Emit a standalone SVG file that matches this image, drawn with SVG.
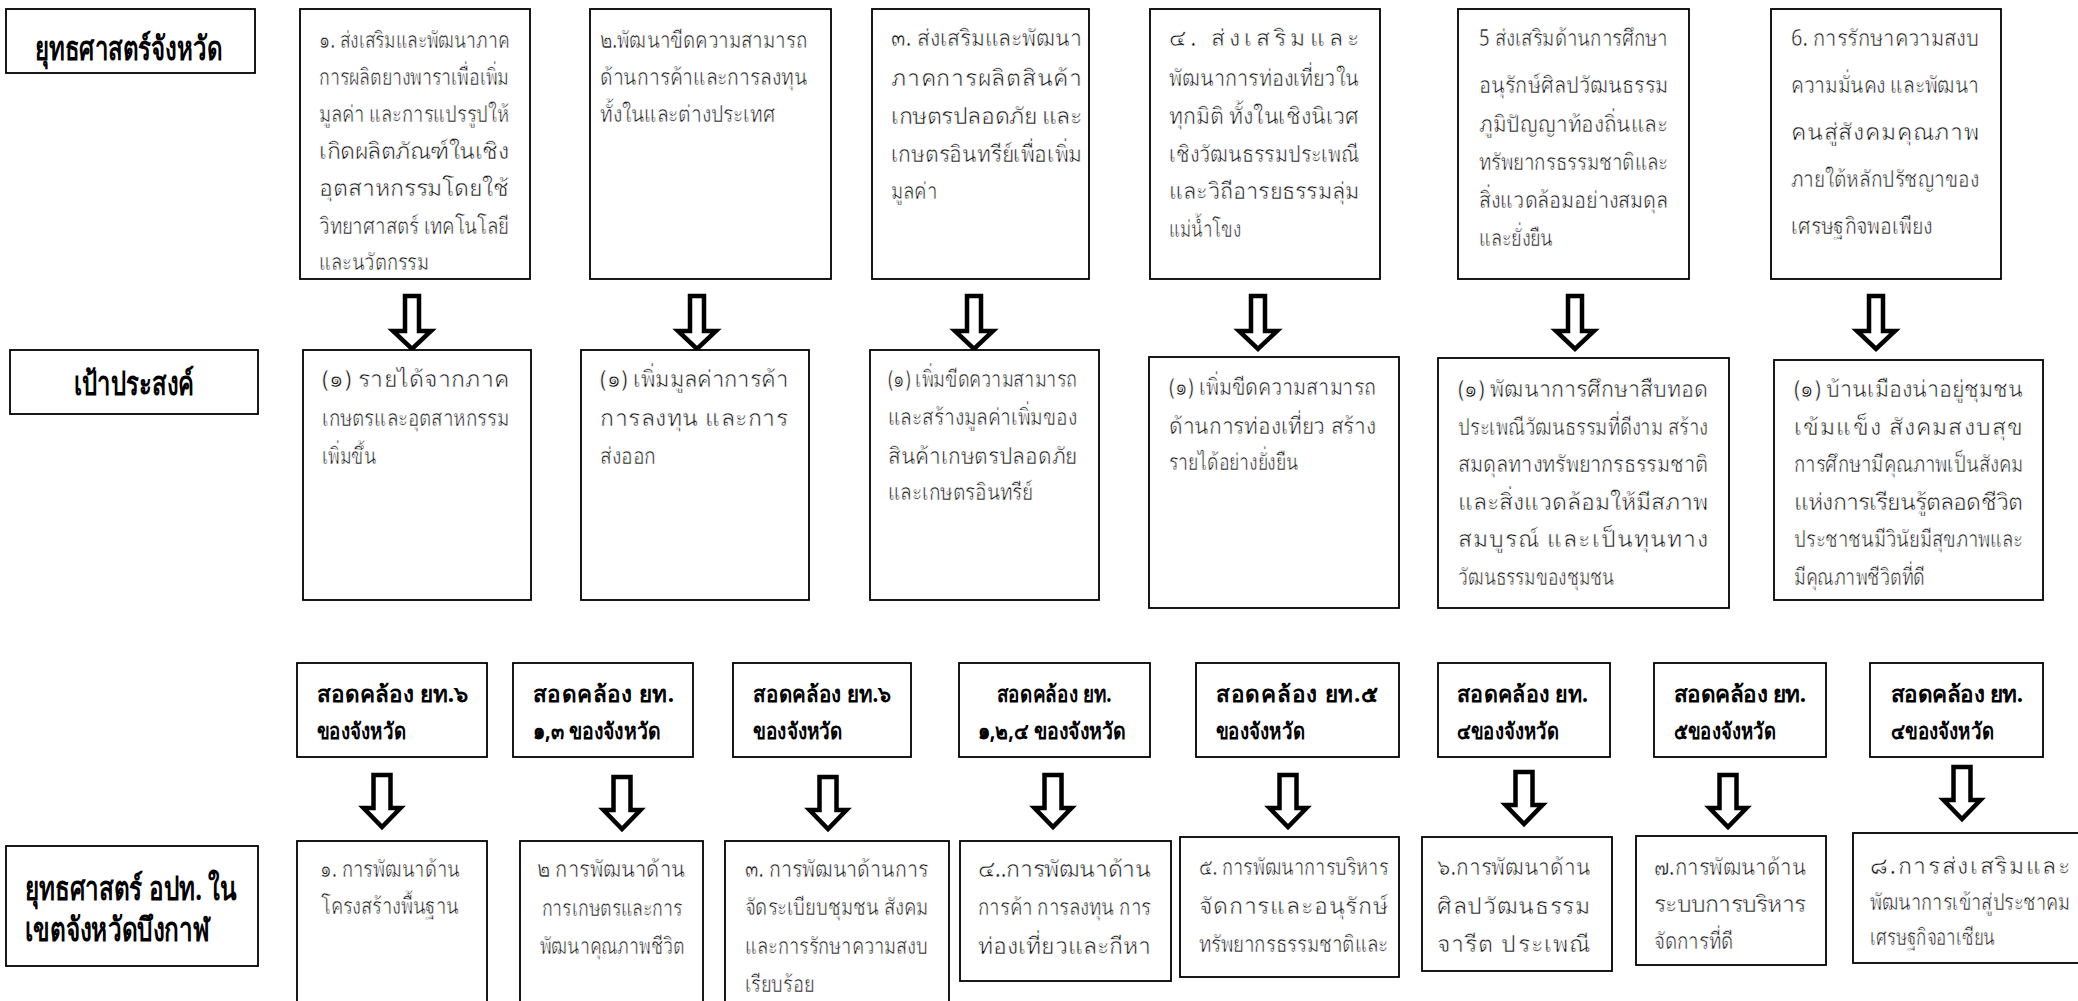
<svg xmlns="http://www.w3.org/2000/svg" xmlns:xlink="http://www.w3.org/1999/xlink" width="2078" height="1001" viewBox="0 0 2078 1001">
<style>
.box{fill:#fff;stroke:#000;stroke-width:1.8}
.t{font-family:'Noto Sans','DejaVu Sans',sans-serif;font-size:23px;fill:#111;stroke:#fff;stroke-width:0.55px}
.b{font-weight:bold;font-size:22.5px;fill:#000;stroke:none}
.h{font-weight:bold;font-size:33px;fill:#000;stroke:none}
.arr{fill:#fff;stroke:#000;stroke-width:4.5;stroke-linejoin:miter;stroke-miterlimit:10}
.m{text-anchor:middle}
</style>
<defs>
<path id="arrA" d="M-7,-56 H7 V-21 H19 L0,-3 L-19,-21 H-7 Z"/>
<path id="arrB" d="M-8.5,-55 H8.5 V-22 H18.5 L0,-3 L-18.5,-22 H-8.5 Z"/>
</defs>
<rect width="2078" height="1001" fill="#fff"/>

<g id="connectors">
<use xlink:href="#arrA" class="arr" transform="translate(412,352)"/>
<use xlink:href="#arrA" class="arr" transform="translate(697,352)"/>
<use xlink:href="#arrA" class="arr" transform="translate(974,352)"/>
<use xlink:href="#arrA" class="arr" transform="translate(1258,352)"/>
<use xlink:href="#arrA" class="arr" transform="translate(1575,352)"/>
<use xlink:href="#arrA" class="arr" transform="translate(1876,352)"/>
<use xlink:href="#arrB" class="arr" transform="translate(382,830)"/>
<use xlink:href="#arrB" class="arr" transform="translate(622,832)"/>
<use xlink:href="#arrB" class="arr" transform="translate(828,832)"/>
<use xlink:href="#arrB" class="arr" transform="translate(1053,830)"/>
<use xlink:href="#arrB" class="arr" transform="translate(1288,830)"/>
<use xlink:href="#arrB" class="arr" transform="translate(1524,827)"/>
<use xlink:href="#arrB" class="arr" transform="translate(1728,830)"/>
<use xlink:href="#arrB" class="arr" transform="translate(1962,822)"/>
</g>

<g id="title-province">
<rect class="box" x="6" y="9" width="249" height="64"/>
<text class="t h" x="35" y="60" textLength="187" lengthAdjust="spacingAndGlyphs">ยุทธศาสตร์จังหวัด</text>
</g>

<g id="a1">
<rect class="box" x="300" y="9" width="230" height="270"/>
<text class="t" x="319" y="48" textLength="190" lengthAdjust="spacingAndGlyphs">๑. ส่งเสริมและพัฒนาภาค</text>
<text class="t" x="319" y="85" textLength="190" lengthAdjust="spacingAndGlyphs">การผลิตยางพาราเพื่อเพิ่ม</text>
<text class="t" x="319" y="122" textLength="190" lengthAdjust="spacingAndGlyphs">มูลค่า และการแปรรูปให้</text>
<text class="t" x="319" y="159" textLength="190" lengthAdjust="spacing">เกิดผลิตภัณฑ์ในเชิง</text>
<text class="t" x="319" y="196" textLength="190" lengthAdjust="spacing">อุตสาหกรรมโดยใช้</text>
<text class="t" x="319" y="234" textLength="190" lengthAdjust="spacingAndGlyphs">วิทยาศาสตร์ เทคโนโลยี</text>
<text class="t" x="319" y="270" textLength="110" lengthAdjust="spacingAndGlyphs">และนวัตกรรม</text>
</g>

<g id="a2">
<rect class="box" x="590" y="9" width="241" height="270"/>
<text class="t" x="600" y="48" textLength="207" lengthAdjust="spacingAndGlyphs">๒.พัฒนาขีดความสามารถ</text>
<text class="t" x="600" y="85" textLength="207" lengthAdjust="spacingAndGlyphs">ด้านการค้าและการลงทุน</text>
<text class="t" x="600" y="122" textLength="175" lengthAdjust="spacingAndGlyphs">ทั้งในและต่างประเทศ</text>
</g>

<g id="a3">
<rect class="box" x="872" y="9" width="217" height="270"/>
<text class="t" x="891" y="46" textLength="191" lengthAdjust="spacingAndGlyphs">๓. ส่งเสริมและพัฒนา</text>
<text class="t" x="891" y="86" textLength="191" lengthAdjust="spacing">ภาคการผลิตสินค้า</text>
<text class="t" x="891" y="124" textLength="191" lengthAdjust="spacing">เกษตรปลอดภัย และ</text>
<text class="t" x="891" y="162" textLength="191" lengthAdjust="spacingAndGlyphs">เกษตรอินทรีย์เพื่อเพิ่ม</text>
<text class="t" x="891" y="199" textLength="46" lengthAdjust="spacingAndGlyphs">มูลค่า</text>
</g>

<g id="a4">
<rect class="box" x="1150" y="9" width="230" height="270"/>
<text class="t" x="1169" y="46" textLength="190" lengthAdjust="spacing">๔. ส่งเสริมและ</text>
<text class="t" x="1169" y="86" textLength="190" lengthAdjust="spacingAndGlyphs">พัฒนาการท่องเที่ยวใน</text>
<text class="t" x="1169" y="124" textLength="190" lengthAdjust="spacingAndGlyphs">ทุกมิติ ทั้งในเชิงนิเวศ</text>
<text class="t" x="1169" y="162" textLength="190" lengthAdjust="spacingAndGlyphs">เชิงวัฒนธรรมประเพณี</text>
<text class="t" x="1169" y="199" textLength="190" lengthAdjust="spacingAndGlyphs">และวิถีอารยธรรมลุ่ม</text>
<text class="t" x="1169" y="237" textLength="72" lengthAdjust="spacingAndGlyphs">แม่น้ำโขง</text>
</g>

<g id="a5">
<rect class="box" x="1458" y="9" width="231" height="270"/>
<text class="t" x="1479" y="46" textLength="189" lengthAdjust="spacingAndGlyphs">5 ส่งเสริมด้านการศึกษา</text>
<text class="t" x="1479" y="93" textLength="189" lengthAdjust="spacingAndGlyphs">อนุรักษ์ศิลปวัฒนธรรม</text>
<text class="t" x="1479" y="132" textLength="189" lengthAdjust="spacingAndGlyphs">ภูมิปัญญาท้องถิ่นและ</text>
<text class="t" x="1479" y="170" textLength="189" lengthAdjust="spacingAndGlyphs">ทรัพยากรธรรมชาติและ</text>
<text class="t" x="1479" y="208" textLength="189" lengthAdjust="spacingAndGlyphs">สิ่งแวดล้อมอย่างสมดุล</text>
<text class="t" x="1479" y="246" textLength="74" lengthAdjust="spacingAndGlyphs">และยั่งยืน</text>
</g>

<g id="a6">
<rect class="box" x="1771" y="9" width="230" height="270"/>
<text class="t" x="1791" y="46" textLength="188" lengthAdjust="spacingAndGlyphs">6. การรักษาความสงบ</text>
<text class="t" x="1791" y="93" textLength="188" lengthAdjust="spacingAndGlyphs">ความมั่นคง และพัฒนา</text>
<text class="t" x="1791" y="140" textLength="188" lengthAdjust="spacing">คนสู่สังคมคุณภาพ</text>
<text class="t" x="1791" y="187" textLength="188" lengthAdjust="spacingAndGlyphs">ภายใต้หลักปรัชญาของ</text>
<text class="t" x="1791" y="234" textLength="141" lengthAdjust="spacingAndGlyphs">เศรษฐกิจพอเพียง</text>
</g>

<g id="title-goal">
<rect class="box" x="10" y="350" width="248" height="64"/>
<text class="t h" x="74" y="395" textLength="120" lengthAdjust="spacingAndGlyphs">เป้าประสงค์</text>
</g>

<g id="b1">
<rect class="box" x="303" y="350" width="228" height="250"/>
<text class="t" x="322" y="387" textLength="187" lengthAdjust="spacing">(๑) รายได้จากภาค</text>
<text class="t" x="322" y="426" textLength="187" lengthAdjust="spacingAndGlyphs">เกษตรและอุตสาหกรรม</text>
<text class="t" x="322" y="464" textLength="54" lengthAdjust="spacingAndGlyphs">เพิ่มขึ้น</text>
</g>

<g id="b2">
<rect class="box" x="581" y="350" width="228" height="250"/>
<text class="t" x="600" y="387" textLength="188" lengthAdjust="spacingAndGlyphs">(๑) เพิ่มมูลค่าการค้า</text>
<text class="t" x="600" y="426" textLength="188" lengthAdjust="spacing">การลงทุน และการ</text>
<text class="t" x="600" y="464" textLength="56" lengthAdjust="spacingAndGlyphs">ส่งออก</text>
</g>

<g id="b3">
<rect class="box" x="870" y="350" width="229" height="250"/>
<text class="t" x="888" y="387" textLength="189" lengthAdjust="spacingAndGlyphs">(๑) เพิ่มขีดความสามารถ</text>
<text class="t" x="888" y="425" textLength="189" lengthAdjust="spacingAndGlyphs">และสร้างมูลค่าเพิ่มของ</text>
<text class="t" x="888" y="464" textLength="189" lengthAdjust="spacingAndGlyphs">สินค้าเกษตรปลอดภัย</text>
<text class="t" x="888" y="500" textLength="145" lengthAdjust="spacingAndGlyphs">และเกษตรอินทรีย์</text>
</g>

<g id="b4">
<rect class="box" x="1149" y="357" width="250" height="251"/>
<text class="t" x="1169" y="395" textLength="207" lengthAdjust="spacingAndGlyphs">(๑) เพิ่มขีดความสามารถ</text>
<text class="t" x="1169" y="434" textLength="207" lengthAdjust="spacingAndGlyphs">ด้านการท่องเที่ยว สร้าง</text>
<text class="t" x="1169" y="470" textLength="129" lengthAdjust="spacingAndGlyphs">รายได้อย่างยั่งยืน</text>
</g>

<g id="b5">
<rect class="box" x="1438" y="358" width="291" height="250"/>
<text class="t" x="1458" y="397" textLength="250" lengthAdjust="spacingAndGlyphs">(๑) พัฒนาการศึกษาสืบทอด</text>
<text class="t" x="1458" y="435" textLength="250" lengthAdjust="spacingAndGlyphs">ประเพณีวัฒนธรรมที่ดีงาม สร้าง</text>
<text class="t" x="1458" y="472" textLength="250" lengthAdjust="spacingAndGlyphs">สมดุลทางทรัพยากรธรรมชาติ</text>
<text class="t" x="1458" y="510" textLength="250" lengthAdjust="spacing">และสิ่งแวดล้อมให้มีสภาพ</text>
<text class="t" x="1458" y="547" textLength="250" lengthAdjust="spacing">สมบูรณ์ และเป็นทุนทาง</text>
<text class="t" x="1458" y="585" textLength="156" lengthAdjust="spacingAndGlyphs">วัฒนธรรมของชุมชน</text>
</g>

<g id="b6">
<rect class="box" x="1774" y="360" width="269" height="240"/>
<text class="t" x="1794" y="397" textLength="229" lengthAdjust="spacingAndGlyphs">(๑) บ้านเมืองน่าอยู่ชุมชน</text>
<text class="t" x="1794" y="435" textLength="229" lengthAdjust="spacing">เข้มแข็ง สังคมสงบสุข</text>
<text class="t" x="1794" y="472" textLength="229" lengthAdjust="spacingAndGlyphs">การศึกษามีคุณภาพเป็นสังคม</text>
<text class="t" x="1794" y="510" textLength="229" lengthAdjust="spacing">แห่งการเรียนรู้ตลอดชีวิต</text>
<text class="t" x="1794" y="547" textLength="229" lengthAdjust="spacingAndGlyphs">ประชาชนมีวินัยมีสุขภาพและ</text>
<text class="t" x="1794" y="585" textLength="131" lengthAdjust="spacingAndGlyphs">มีคุณภาพชีวิตที่ดี</text>
</g>

<g id="c1">
<rect class="box" x="297" y="663" width="190" height="94"/>
<text class="t b" x="317" y="702" textLength="151" lengthAdjust="spacing">สอดคล้อง ยท.๖</text>
<text class="t b" x="317" y="739" textLength="89" lengthAdjust="spacingAndGlyphs">ของจังหวัด</text>
</g>
<g id="c2">
<rect class="box" x="513" y="663" width="180" height="94"/>
<text class="t b" x="533" y="702" textLength="141" lengthAdjust="spacing">สอดคล้อง ยท.</text>
<text class="t b" x="533" y="739" textLength="128" lengthAdjust="spacingAndGlyphs">๑,๓ ของจังหวัด</text>
</g>
<g id="c3">
<rect class="box" x="733" y="663" width="178" height="94"/>
<text class="t b" x="753" y="702" textLength="138" lengthAdjust="spacingAndGlyphs">สอดคล้อง ยท.๖</text>
<text class="t b" x="753" y="739" textLength="90" lengthAdjust="spacingAndGlyphs">ของจังหวัด</text>
</g>
<g id="c4">
<rect class="box" x="959" y="663" width="191" height="94"/>
<text class="t b m" x="1054" y="702" textLength="115" lengthAdjust="spacingAndGlyphs">สอดคล้อง ยท.</text>
<text class="t b m" x="1052" y="739" textLength="149" lengthAdjust="spacingAndGlyphs">๑,๒,๔ ของจังหวัด</text>
</g>
<g id="c5">
<rect class="box" x="1196" y="663" width="203" height="94"/>
<text class="t b" x="1216" y="702" textLength="162" lengthAdjust="spacing">สอดคล้อง ยท.๕</text>
<text class="t b" x="1216" y="739" textLength="89" lengthAdjust="spacingAndGlyphs">ของจังหวัด</text>
</g>
<g id="c6">
<rect class="box" x="1438" y="663" width="172" height="94"/>
<text class="t b" x="1457" y="702" textLength="131" lengthAdjust="spacingAndGlyphs">สอดคล้อง ยท.</text>
<text class="t b" x="1457" y="739" textLength="102" lengthAdjust="spacingAndGlyphs">๔ของจังหวัด</text>
</g>
<g id="c7">
<rect class="box" x="1654" y="663" width="172" height="94"/>
<text class="t b" x="1674" y="702" textLength="132" lengthAdjust="spacing">สอดคล้อง ยท.</text>
<text class="t b" x="1674" y="739" textLength="102" lengthAdjust="spacingAndGlyphs">๕ของจังหวัด</text>
</g>
<g id="c8">
<rect class="box" x="1870" y="663" width="173" height="94"/>
<text class="t b" x="1891" y="702" textLength="132" lengthAdjust="spacing">สอดคล้อง ยท.</text>
<text class="t b" x="1891" y="739" textLength="103" lengthAdjust="spacingAndGlyphs">๔ของจังหวัด</text>
</g>

<g id="title-local">
<rect class="box" x="6" y="846" width="252" height="120"/>
<text class="t h" x="25" y="900" textLength="212" lengthAdjust="spacingAndGlyphs">ยุทธศาสตร์ อปท. ใน</text>
<text class="t h" x="25" y="941" textLength="185" lengthAdjust="spacingAndGlyphs">เขตจังหวัดบึงกาฬ</text>
</g>

<g id="d1">
<rect class="box" x="297" y="841" width="190" height="175"/>
<text class="t m" x="390" y="877" textLength="140" lengthAdjust="spacingAndGlyphs">๑. การพัฒนาด้าน</text>
<text class="t m" x="390" y="914" textLength="138" lengthAdjust="spacingAndGlyphs">โครงสร้างพื้นฐาน</text>
</g>
<g id="d2">
<rect class="box" x="520" y="841" width="183" height="175"/>
<text class="t m" x="611" y="877" textLength="148" lengthAdjust="spacingAndGlyphs">๒ การพัฒนาด้าน</text>
<text class="t m" x="612" y="916" textLength="141" lengthAdjust="spacingAndGlyphs">การเกษตรและการ</text>
<text class="t m" x="612" y="954" textLength="145" lengthAdjust="spacingAndGlyphs">พัฒนาคุณภาพชีวิต</text>
</g>
<g id="d3">
<rect class="box" x="725" y="841" width="224" height="175"/>
<text class="t" x="745" y="877" textLength="183" lengthAdjust="spacingAndGlyphs">๓. การพัฒนาด้านการ</text>
<text class="t" x="745" y="915" textLength="183" lengthAdjust="spacingAndGlyphs">จัดระเบียบชุมชน สังคม</text>
<text class="t" x="745" y="954" textLength="183" lengthAdjust="spacingAndGlyphs">และการรักษาความสงบ</text>
<text class="t" x="745" y="992" textLength="69" lengthAdjust="spacingAndGlyphs">เรียบร้อย</text>
</g>
<g id="d4">
<rect class="box" x="960" y="841" width="211" height="140"/>
<text class="t" x="978" y="877" textLength="173" lengthAdjust="spacing">๔..การพัฒนาด้าน</text>
<text class="t" x="978" y="915" textLength="173" lengthAdjust="spacingAndGlyphs">การค้า การลงทุน การ</text>
<text class="t" x="978" y="954" textLength="173" lengthAdjust="spacing">ท่องเที่ยวและกีหา</text>
</g>
<g id="d5">
<rect class="box" x="1180" y="837" width="219" height="140"/>
<text class="t" x="1199" y="875" textLength="189" lengthAdjust="spacingAndGlyphs">๕. การพัฒนาการบริหาร</text>
<text class="t" x="1199" y="914" textLength="189" lengthAdjust="spacing">จัดการและอนุรักษ์</text>
<text class="t" x="1199" y="952" textLength="189" lengthAdjust="spacingAndGlyphs">ทรัพยากรธรรมชาติและ</text>
</g>
<g id="d6">
<rect class="box" x="1422" y="837" width="190" height="134"/>
<text class="t" x="1437" y="875" textLength="153" lengthAdjust="spacingAndGlyphs">๖.การพัฒนาด้าน</text>
<text class="t" x="1437" y="914" textLength="153" lengthAdjust="spacing">ศิลปวัฒนธรรม</text>
<text class="t" x="1437" y="952" textLength="153" lengthAdjust="spacing">จารีต ประเพณี</text>
</g>
<g id="d7">
<rect class="box" x="1636" y="836" width="190" height="129"/>
<text class="t" x="1654" y="875" textLength="152" lengthAdjust="spacingAndGlyphs">๗.การพัฒนาด้าน</text>
<text class="t" x="1654" y="912" textLength="152" lengthAdjust="spacing">ระบบการบริหาร</text>
<text class="t" x="1654" y="949" textLength="79" lengthAdjust="spacingAndGlyphs">จัดการที่ดี</text>
</g>
<g id="d8">
<rect class="box" x="1853" y="833" width="240" height="130"/>
<text class="t" x="1870" y="874" textLength="200" lengthAdjust="spacing">๘.การส่งเสริมและ</text>
<text class="t" x="1870" y="910" textLength="200" lengthAdjust="spacingAndGlyphs">พัฒนาการเข้าสู่ประชาคม</text>
<text class="t" x="1870" y="945" textLength="125" lengthAdjust="spacingAndGlyphs">เศรษฐกิจอาเซียน</text>
</g>
</svg>
